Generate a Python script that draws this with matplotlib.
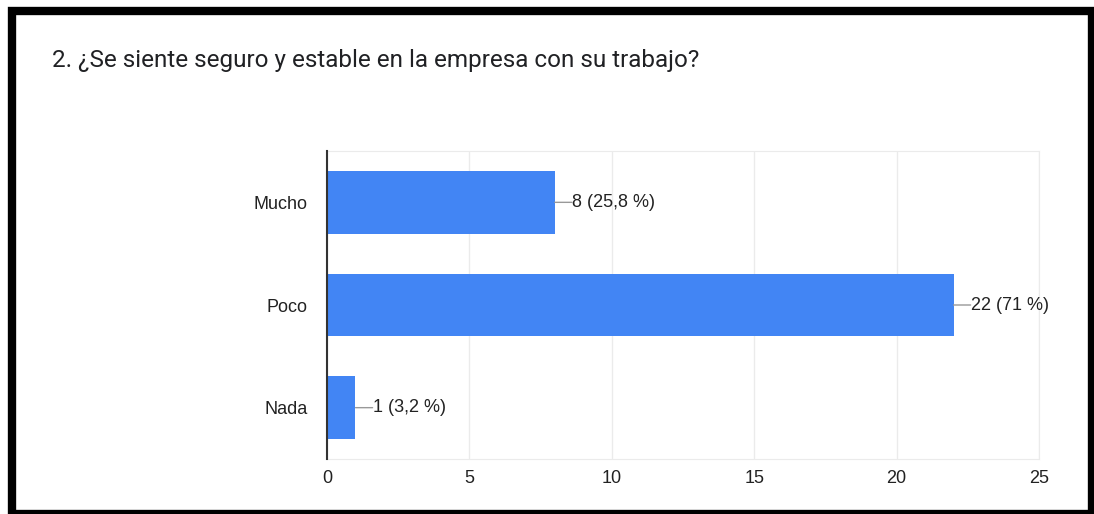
import matplotlib.pyplot as plt
from matplotlib.patches import Rectangle

categories = ["Mucho", "Poco", "Nada"]
counts = [8, 22, 1]
percents = ["25,8", "71", "3,2"]
xticks = [0, 5, 10, 15, 20, 25]

fig = plt.figure(figsize=(10.94, 5.14), dpi=100)
fig.patch.set_facecolor("white")

# black frame around the card (right and bottom edges run off the image)
fig.add_artist(Rectangle((12 / 1094, 0), (1092 - 12) / 1094, (514 - 11) / 514,
                         transform=fig.transFigure, fill=False,
                         edgecolor="black", linewidth=6, clip_on=False))

fig.text(52 / 1094, 1 - 60 / 514, "2. ¿Se siente seguro y estable en la empresa con su trabajo?",
         fontsize=17.5, family="Roboto", color="#202124", va="center", ha="left")

ax = fig.add_axes([327 / 1094, 1 - 459 / 514, (1039 - 327) / 1094, (459 - 151) / 514])

y = list(range(len(categories)))
ax.barh(y, counts, height=0.61, color="#4285f4", zorder=3)
ax.set_ylim(len(categories) - 0.5, -0.5)
ax.set_xlim(0, 25)

ax.set_xticks(xticks)
ax.set_yticks(y)
ax.set_yticklabels(categories)
ax.tick_params(axis="both", length=0, labelsize=13, colors="#222222", labelfontfamily="Liberation Sans")
ax.tick_params(axis="x", pad=8)
ax.tick_params(axis="y", pad=14)

ax.grid(axis="x", color="#ebebeb", linewidth=1, zorder=0)
for side in ["top", "right", "bottom"]:
    ax.spines[side].set_color("#ebebeb")
ax.spines["left"].set_color("#333333")
ax.spines["left"].set_linewidth(1.5)
ax.spines["left"].set_zorder(4)

for yi, c, p in zip(y, counts, percents):
    ax.annotate("", xy=(c, yi), xytext=(c + 0.6, yi),
                arrowprops=dict(arrowstyle="-", color="#999999", lw=1, shrinkA=0, shrinkB=0))
    ax.text(c + 0.6, yi, f"{c} ({p} %)", va="center", ha="left", fontsize=13,
            family="Liberation Sans", color="#222222")

fig.savefig("out.png", dpi=100)
